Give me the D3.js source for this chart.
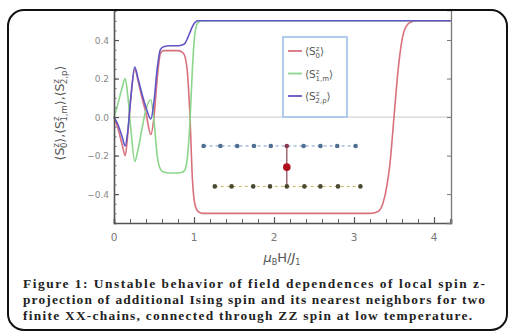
<!DOCTYPE html>
<html><head><meta charset="utf-8">
<script src="https://cdn.jsdelivr.net/npm/d3@7"></script>
<style>body{margin:0;background:#fff;}svg{display:block;}</style>
</head><body>
<svg id="c" width="509" height="331"></svg>
<script>
// ---- data ----
const mu = [0,0.05,0.1,0.14,0.17,0.21,0.26,0.3,0.35,0.4,0.46,0.5,0.54,0.58,0.62,0.7,0.8,0.86,0.89,0.92,0.95,0.98,1.01,1.05,1.1,1.5,2.0,2.5,3.0,3.2,3.3,3.36,3.41,3.45,3.5,3.55,3.6,3.65,3.72,3.8,4.0,4.21];
const s0  = [0,-0.06,-0.14,-0.2,-0.1,0.1,0.25,0.19,0.1,0.02,-0.09,0.0,0.2,0.33,0.345,0.345,0.345,0.335,0.31,0.22,0.0,-0.32,-0.45,-0.49,-0.5,-0.5,-0.5,-0.5,-0.5,-0.5,-0.49,-0.45,-0.36,-0.24,0.0,0.24,0.4,0.47,0.495,0.5,0.5,0.5];
const s1m = [0,0.07,0.15,0.2,0.12,-0.06,-0.23,-0.17,-0.06,0.04,0.09,-0.02,-0.2,-0.27,-0.285,-0.29,-0.29,-0.285,-0.27,-0.2,-0.02,0.25,0.43,0.49,0.5,0.5,0.5,0.5,0.5,0.5,0.5,0.5,0.5,0.5,0.5,0.5,0.5,0.5,0.5,0.5,0.5,0.5];
const s2p = [0,-0.04,-0.1,-0.15,-0.08,0.1,0.26,0.2,0.12,0.05,-0.01,0.08,0.25,0.35,0.365,0.37,0.37,0.375,0.385,0.41,0.44,0.47,0.49,0.5,0.5,0.5,0.5,0.5,0.5,0.5,0.5,0.5,0.5,0.5,0.5,0.5,0.5,0.5,0.5,0.5,0.5,0.5];
const xTicks = [0,1,2,3,4];
const yTicks = [-0.4,-0.2,0.0,0.2,0.4];
const yTickLabels = ["\u22120.4","\u22120.2","0.0","0.2","0.4"];
// inset chain diagram (data coordinates)
const chainTopX = [1.12,1.33,1.54,1.75,1.96,2.16,2.37,2.58,2.79,3.02];
const chainTopY = -0.15;
const chainBotX = [1.26,1.47,1.74,1.95,2.16,2.38,2.58,2.80,3.08];
const chainBotY = -0.36;
const isingX = 2.16, isingY = -0.26;
const caption = [
 "Figure 1: Unstable behavior of field dependences of local spin z-",
 "projection of additional Ising spin and its nearest neighbors for two",
 "finite XX-chains, connected through ZZ spin at low temperature."
];

// ---- drawing ----
const svg = d3.select("#c");
const L=114, R=451, T=10, B=223;
const x = d3.scaleLinear().domain([0,4.2125]).range([L,R]);
const y = d3.scaleLinear().domain([-0.55,0.556]).range([B,T]);

// zero line
svg.append("line").attr("x1",L).attr("x2",R).attr("y1",y(0)).attr("y2",y(0))
  .attr("stroke","#c8c8c8").attr("stroke-width",1);

// inset diagram
const g = svg.append("g");
g.append("line").attr("x1",x(chainTopX[0])).attr("x2",x(chainTopX[chainTopX.length-1]))
  .attr("y1",y(chainTopY)).attr("y2",y(chainTopY)).attr("stroke","#7d98c8").attr("stroke-width",1).attr("stroke-dasharray","3,3");
g.append("line").attr("x1",x(chainBotX[0])).attr("x2",x(chainBotX[chainBotX.length-1]))
  .attr("y1",y(chainBotY)).attr("y2",y(chainBotY)).attr("stroke","#c8b45a").attr("stroke-width",1).attr("stroke-dasharray","3,3");
g.append("line").attr("x1",x(isingX)).attr("x2",x(isingX)).attr("y1",y(chainTopY)).attr("y2",y(chainBotY))
  .attr("stroke","#8a4050").attr("stroke-width",1.2);
g.selectAll(".t").data(chainTopX).enter().append("circle")
  .attr("cx",d=>x(d)).attr("cy",y(chainTopY)).attr("r",2.3).attr("fill",d=>d===isingX?"#8a3a50":"#4f6f92");
g.selectAll(".b").data(chainBotX).enter().append("circle")
  .attr("cx",d=>x(d)).attr("cy",y(chainBotY)).attr("r",2.3).attr("fill","#4a4a32");
g.append("circle").attr("cx",x(isingX)).attr("cy",y(isingY)).attr("r",3.8).attr("fill","#b0101e");

// curves
const line = d3.line().x((d,i)=>x(mu[i])).y(d=>y(d)).curve(d3.curveMonotoneX);
const series = [
  {v:s0, c:"#d9707e"},
  {v:s1m, c:"#8bd68b"},
  {v:s2p, c:"#5f55c5"}
];
series.forEach(s=>{
  svg.append("path").attr("d",line(s.v)).attr("fill","none").attr("stroke",s.c).attr("stroke-width",1.6);
});

// axes (frame)
const axB = d3.axisBottom(x).tickValues(d3.range(0,4.21,0.2)).tickSize(-4).tickFormat("");
const axL = d3.axisLeft(y).tickValues(d3.range(-0.5,0.551,0.05)).tickSize(-2.5).tickFormat("");
svg.append("g").attr("transform",`translate(0,${B})`).call(axB).call(a=>{a.select(".domain").attr("stroke","#555").attr("stroke-width",1.6);a.selectAll("line").attr("stroke","#666");});
svg.append("g").attr("transform",`translate(${L},0)`).call(axL).call(a=>{a.select(".domain").attr("stroke","#555").attr("stroke-width",1.6);a.selectAll("line").attr("stroke","#666");});
svg.append("g").attr("transform",`translate(0,${B})`).call(d3.axisBottom(x).tickValues(xTicks).tickSize(-6).tickFormat("")).call(a=>{a.select(".domain").remove();a.selectAll("line").attr("stroke","#555").attr("stroke-width",1.2);});
svg.append("g").attr("transform",`translate(${L},0)`).call(d3.axisLeft(y).tickValues(yTicks).tickSize(-5).tickFormat("")).call(a=>{a.select(".domain").remove();a.selectAll("line").attr("stroke","#555").attr("stroke-width",1.2);});
// right frame
svg.append("g").attr("transform",`translate(${R},0)`).call(d3.axisRight(y).tickValues(yTicks).tickSize(-4).tickFormat("")).call(a=>{a.select(".domain").attr("stroke","#777").attr("stroke-width",1.3);a.selectAll("line").attr("stroke","#777");});

// tick labels
svg.append("g").selectAll("text").data(xTicks).enter().append("text")
  .attr("x",d=>x(d)).attr("y",241).attr("text-anchor","middle")
  .attr("font-family","DejaVu Sans, sans-serif").attr("font-size",10.5).attr("fill","#777").text(d=>d);
svg.append("g").selectAll("text").data(yTicks).enter().append("text")
  .attr("x",109).attr("y",d=>y(d)+3.5).attr("text-anchor","end")
  .attr("font-family","DejaVu Sans, sans-serif").attr("font-size",9).attr("fill","#888").text((d,i)=>yTickLabels[i]);

// axis titles
const yt = svg.append("text").attr("transform","translate(64,113) rotate(-90)").attr("text-anchor","middle")
  .attr("font-family","DejaVu Sans, sans-serif").attr("font-size",12.5).attr("fill","#555");
function spin(t, sub, last){
  t.append("tspan").text("\u27E8S");
  t.append("tspan").attr("font-size",8.5).attr("dy",-5).text("z");
  t.append("tspan").attr("font-size",8.5).attr("dx",-5).attr("dy",8).text(sub);
  t.append("tspan").attr("dy",-3).text("\u27E9"+(last?"":","));
}
spin(yt,"0");spin(yt,"1,m");spin(yt,"2,p",true);

const xt = svg.append("text").attr("x",282).attr("y",262).attr("text-anchor","middle")
  .attr("font-family","DejaVu Sans, sans-serif").attr("font-size",13).attr("fill","#555");
xt.append("tspan").attr("font-style","italic").text("\u03BC");
xt.append("tspan").attr("font-size",8).attr("dy",3).text("B");
xt.append("tspan").attr("dy",-3).text("H/");
xt.append("tspan").attr("font-style","italic").text("J");
xt.append("tspan").attr("font-size",8).attr("dy",3).text("1");

// legend
const lg = svg.append("g");
lg.append("rect").attr("x",283).attr("y",37).attr("width",64).attr("height",80)
  .attr("fill","#fff").attr("stroke","#a9c6ea").attr("stroke-width",1.8);
const legLabels = ["0","1,m","2,p"];
series.forEach((s,i)=>{
  const yy = 51 + i*22.5;
  lg.append("line").attr("x1",288).attr("x2",302).attr("y1",yy).attr("y2",yy).attr("stroke",s.c).attr("stroke-width",1.8);
  const t = lg.append("text").attr("x",305).attr("y",yy+4).attr("font-family","DejaVu Sans, sans-serif").attr("font-size",10.5).attr("fill","#555");
  t.append("tspan").text("\u27E8S");
  t.append("tspan").attr("font-size",7).attr("dy",-4).text("z");
  t.append("tspan").attr("font-size",7).attr("dx",-4).attr("dy",7).text(legLabels[i]);
  t.append("tspan").attr("dy",-3).text("\u27E9");
});

// outer frame
svg.append("rect").attr("x",8).attr("y",10).attr("width",499).attr("height",320).attr("rx",16)
  .attr("fill","none").attr("stroke","#111").attr("stroke-width",2);

// caption
const capY = [288,304,320];
const capW = [462,462,449];
svg.append("g").selectAll("text").data(caption).enter().append("text")
  .attr("x",23).attr("y",(d,i)=>capY[i]).attr("textLength",(d,i)=>capW[i]).attr("lengthAdjust","spacing")
  .attr("font-family","Liberation Serif, serif").attr("font-weight","bold").attr("font-size",13.4).attr("fill","#222")
  .text(d=>d);
</script>
</body></html>
